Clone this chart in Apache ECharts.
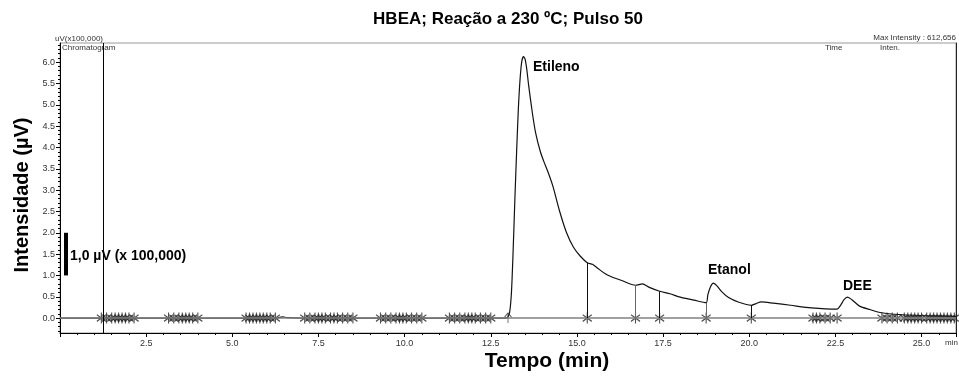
<!DOCTYPE html>
<html><head><meta charset="utf-8">
<script src="https://cdn.jsdelivr.net/npm/echarts@6/dist/echarts.min.js"></script>
<style>html,body{margin:0;padding:0;background:#fff}#c{width:959px;height:376px}</style>
</head><body><div id="c"></div>
<script>
// ---- data ----
var traceTime = [0,6.3,6.45,6.6,7.0,12.9,13.0,13.05,13.1,13.15,13.2,13.25,13.3,13.35,13.4,13.45,13.5,13.55,13.6,13.7,13.8,13.94,14.05,14.15,14.3,14.5,14.7,14.9,15.1,15.3,15.45,15.6,15.8,16.0,16.3,16.7,16.9,17.1,17.4,17.7,18.0,18.4,18.75,18.8,18.88,18.96,19.07,19.2,19.4,19.7,20.06,20.2,20.35,20.7,21.2,21.8,22.55,22.65,22.75,22.85,22.98,23.2,23.5,23.8,24.2,25.0,26.0];
var traceValue = [0,0,0.03,0.01,0,0,0.03,0.15,0.6,1.6,2.8,3.9,4.9,5.6,6.02,6.13,6.06,5.8,5.45,4.85,4.35,3.9,3.65,3.45,3.1,2.5,2.0,1.66,1.45,1.3,1.26,1.17,1.05,0.97,0.88,0.77,0.8,0.72,0.63,0.57,0.49,0.42,0.36,0.55,0.74,0.82,0.75,0.62,0.48,0.37,0.3,0.34,0.38,0.35,0.3,0.24,0.21,0.3,0.43,0.49,0.43,0.28,0.2,0.13,0.09,0.06,0.04];
var dropTimes = [15.3,16.7,17.4,18.75,20.06];
var dropValues = [1.3,0.77,0.63,0.36,0.3];
var markerTimes = [1.2,1.35,1.5,1.6,1.7,1.8,1.9,2.0,2.15,
  3.15,3.3,3.45,3.55,3.65,3.75,3.85,4.0,
  5.4,5.5,5.6,5.7,5.8,5.9,6.0,6.1,6.25,
  7.1,7.25,7.4,7.5,7.6,7.7,7.85,7.95,8.05,8.2,8.35,8.5,
  9.3,9.45,9.6,9.75,9.85,9.95,10.05,10.2,10.35,10.5,
  11.3,11.45,11.6,11.75,11.85,11.95,12.05,12.2,12.35,12.5,
  15.3,16.7,17.4,18.75,20.06,
  21.85,21.95,22.05,22.2,22.35,22.55,
  23.85,24.0,24.15,24.3,24.5,24.6,24.7,24.8,24.9,25.0,25.15,25.25,25.35,25.45,25.55,25.65,25.75,25.85,25.95];
var arrowTimes = [13.0];
var xTickLabels = ['2.5','5.0','7.5','10.0','12.5','15.0','17.5','20.0','22.5','25.0'];
var yTickLabels = ['0.0','0.5','1.0','1.5','2.0','2.5','3.0','3.5','4.0','4.5','5.0','5.5','6.0'];
var peakLabels = ['Etileno','Etanol','DEE'];
var markerLineTime = 1.25;
var scaleBar = [1.0, 2.0];

// ---- chart ----
var yMajor = yTickLabels.map(Number);
var yMinor = [];
for (var k = -3; k <= 64; k++) yMinor.push(Math.round(k) / 10);
var xMajor = xTickLabels.map(Number);

var FONT = 'Liberation Sans, Arial, sans-serif';
var chart = echarts.init(document.getElementById('c'), null, {renderer: 'canvas'});
var ast = 'path://M5,0L5,10M0,2L10,8M0,8L10,2';
var arr = 'path://M5,0L5,10M1,4L5,0L9,4';

var option = {
  animation: false,
  backgroundColor: '#fff',
  grid: {left: 60, right: 3, top: 43, bottom: 43, show: true, borderColor: '#999', borderWidth: 1},
  xAxis: [{
    type: 'value', min: 0, max: 26, interval: 2.5,
    axisLine: {show: true, onZero: false, lineStyle: {color: '#000', width: 1}},
    axisTick: {show: true, length: 4, lineStyle: {color: '#000'}},
    minorTick: {show: true, splitNumber: 5, length: 2, lineStyle: {color: '#000'}},
    axisLabel: {fontSize: 9, color: '#333', fontFamily: FONT, margin: 6, showMaxLabel: false,
      formatter: function (v) { var i = xMajor.indexOf(v); return i >= 0 ? xTickLabels[i] : ''; }},
    splitLine: {show: false}
  }],
  yAxis: [{
    type: 'value', min: -0.35, max: 6.45, position: 'left',
    axisLine: {show: true, onZero: false, lineStyle: {color: '#000'}},
    axisTick: {show: true, length: 4, customValues: yMajor, lineStyle: {color: '#000'}},
    axisLabel: {fontSize: 9, color: '#333', fontFamily: FONT, margin: 5, customValues: yMajor,
      formatter: function (v) { var i = yMajor.indexOf(Math.round(v * 10) / 10); return i >= 0 ? yTickLabels[i] : ''; }},
    splitLine: {show: false}
  }, {
    type: 'value', min: -0.35, max: 6.45, position: 'left',
    axisLine: {show: false},
    axisTick: {show: true, length: 2, customValues: yMinor, lineStyle: {color: '#000'}},
    axisLabel: {show: false},
    splitLine: {show: false}
  }, {
    type: 'value', min: -0.35, max: 6.45, position: 'right',
    axisLine: {show: true, onZero: false, lineStyle: {color: '#222'}},
    axisTick: {show: false}, axisLabel: {show: false}, splitLine: {show: false}
  }],
  series: [{
    type: 'line', xAxisIndex: 0, yAxisIndex: 0,
    data: traceTime.map(function (t, i) { return [t, traceValue[i]]; }),
    showSymbol: false, symbol: 'none', smooth: 0.25,
    lineStyle: {color: '#111', width: 1.2},
    z: 3,
    markLine: {
      silent: true, symbol: 'none', label: {show: false}, animation: false,
      lineStyle: {color: '#000', width: 1, type: 'solid'},
      data: [
        {yAxis: 0, lineStyle: {color: '#808080', width: 1.5}},
        {xAxis: markerLineTime, lineStyle: {color: '#000', width: 1}},
        [{coord: [0.16, scaleBar[0]], lineStyle: {color: '#000', width: 4}}, {coord: [0.16, scaleBar[1]]}]
      ].concat(dropTimes.map(function (t, i) {
        return [{coord: [t, 0], lineStyle: {color: i % 2 ? '#666' : '#111', width: 1}}, {coord: [t, dropValues[i]]}];
      }))
    }
  }, {
    type: 'scatter', xAxisIndex: 0, yAxisIndex: 0,
    data: markerTimes.map(function (t) { return [t, 0]; }),
    symbol: ast, symbolSize: [9, 11], symbolKeepAspect: false,
    itemStyle: {color: 'none', borderColor: '#222', borderWidth: 1.2},
    z: 4, silent: true
  }, {
    type: 'scatter', xAxisIndex: 0, yAxisIndex: 0,
    data: arrowTimes.map(function (t) { return [t, 0]; }),
    symbol: arr, symbolSize: [7, 10],
    itemStyle: {color: 'none', borderColor: '#333', borderWidth: 1},
    z: 4, silent: true
  }],
  graphic: [
    {type: 'text', x: 508, y: 19, style: {text: 'HBEA; Reação a 230 ºC; Pulso 50', fontSize: 17, fontWeight: 'bold', fontFamily: FONT, fill: '#000', align: 'center', verticalAlign: 'middle'}},
    {type: 'text', x: 22, y: 195, rotation: Math.PI / 2, style: {text: 'Intensidade (µV)', fontSize: 20, fontWeight: 'bold', fontFamily: FONT, fill: '#000', align: 'center', verticalAlign: 'middle'}},
    {type: 'text', x: 547, y: 361, style: {text: 'Tempo (min)', fontSize: 21, fontWeight: 'bold', fontFamily: FONT, fill: '#000', align: 'center', verticalAlign: 'middle'}},
    {type: 'text', x: 70, y: 256, style: {text: '1,0 µV (x 100,000)', fontSize: 14, fontWeight: 'bold', fontFamily: FONT, fill: '#000', align: 'left', verticalAlign: 'middle'}},
    {type: 'text', x: 533, y: 67, style: {text: peakLabels[0], fontSize: 14, fontWeight: 'bold', fontFamily: FONT, fill: '#000', align: 'left', verticalAlign: 'middle'}},
    {type: 'text', x: 708, y: 270, style: {text: peakLabels[1], fontSize: 14, fontWeight: 'bold', fontFamily: FONT, fill: '#000', align: 'left', verticalAlign: 'middle'}},
    {type: 'text', x: 843, y: 286, style: {text: peakLabels[2], fontSize: 14, fontWeight: 'bold', fontFamily: FONT, fill: '#000', align: 'left', verticalAlign: 'middle'}},
    {type: 'text', x: 55, y: 39, style: {text: 'uV(x100,000)', fontSize: 8, fontFamily: FONT, fill: '#333', align: 'left', verticalAlign: 'middle'}},
    {type: 'text', x: 62, y: 48, style: {text: 'Chromatogram', fontSize: 8, fontFamily: FONT, fill: '#333', align: 'left', verticalAlign: 'middle'}},
    {type: 'text', x: 956, y: 38, style: {text: 'Max Intensity : 612,656', fontSize: 8, fontFamily: FONT, fill: '#333', align: 'right', verticalAlign: 'middle'}},
    {type: 'text', x: 825, y: 48, style: {text: 'Time', fontSize: 8, fontFamily: FONT, fill: '#333', align: 'left', verticalAlign: 'middle'}},
    {type: 'text', x: 880, y: 48, style: {text: 'Inten.', fontSize: 8, fontFamily: FONT, fill: '#333', align: 'left', verticalAlign: 'middle'}},
    {type: 'text', x: 945, y: 343, style: {text: 'min', fontSize: 8, fontFamily: FONT, fill: '#333', align: 'left', verticalAlign: 'middle'}}
  ]
};
chart.setOption(option);
</script>
</body></html>
